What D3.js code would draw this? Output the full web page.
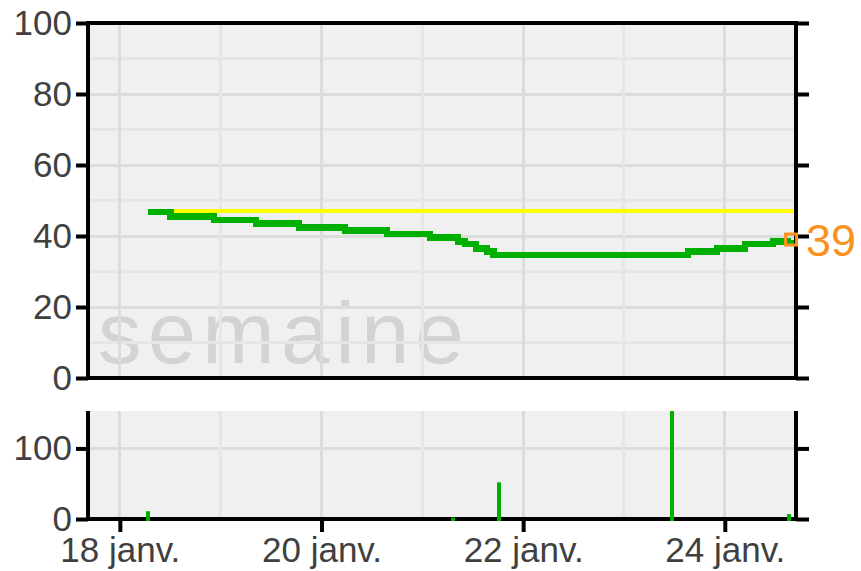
<!DOCTYPE html>
<html>
<head>
<meta charset="utf-8">
<script src="https://cdn.jsdelivr.net/npm/d3@7"></script>
<style>
body { margin: 0; background: #fff; }
svg { display: block; }
</style>
</head>
<body>
<script>
// green step line (top panel)
var tempTimes = ["2024-01-18 06:40", "2024-01-18 12:00", "2024-01-18 22:24", "2024-01-19 08:24",
                 "2024-01-19 18:36", "2024-01-20 05:36", "2024-01-20 15:36", "2024-01-21 01:48",
                 "2024-01-21 08:30", "2024-01-21 10:06", "2024-01-21 12:48", "2024-01-21 15:24",
                 "2024-01-21 17:00", "2024-01-23 15:12", "2024-01-23 22:06", "2024-01-24 04:48",
                 "2024-01-24 11:30", "2024-01-24 15:46"];
var tempValues = [46.7, 45.5, 44.5, 43.5, 42.4, 41.5, 40.5, 39.6, 38.5, 37.7, 36.5, 35.7,
                  34.6, 35.7, 36.5, 37.7, 38.5, 39];
// yellow threshold
var seuilValue = 47;

// bars (bottom panel)
var barTimes = ["2024-01-18 06:40", "2024-01-21 07:18", "2024-01-21 18:12", "2024-01-23 11:30", "2024-01-24 15:18"];
var barValues = [11, 2, 52, 165, 7];

// axes
var xStart = "2024-01-17 16:25", xEnd = "2024-01-24 16:57";
var xTickDays = ["2024-01-18", "2024-01-20", "2024-01-22", "2024-01-24"];
var yTicksTop = [0, 20, 40, 60, 80, 100];
var yGridTop = [10, 20, 30, 40, 50, 60, 70, 80, 90];
var yTicksBottom = [0, 100];
var watermark = "semaine";

var W = 861, H = 571;
var left = 88, right = 796;
var top1 = 23, bottom1 = 378;
var top2 = 411, bottom2 = 519;
var font = "'Liberation Sans', Arial, sans-serif";
var textColor = "#404040";

var parseTime = d3.timeParse("%Y-%m-%d %H:%M");
var parseDay = d3.timeParse("%Y-%m-%d");

var fr = d3.timeFormatLocale({
  dateTime: "%A %e %B %Y à %X", date: "%d/%m/%Y", time: "%H:%M:%S", periods: ["AM", "PM"],
  days: ["dimanche", "lundi", "mardi", "mercredi", "jeudi", "vendredi", "samedi"],
  shortDays: ["dim.", "lun.", "mar.", "mer.", "jeu.", "ven.", "sam."],
  months: ["janvier", "février", "mars", "avril", "mai", "juin", "juillet", "août", "septembre", "octobre", "novembre", "décembre"],
  shortMonths: ["janv.", "févr.", "mars", "avr.", "mai", "juin", "juil.", "août", "sept.", "oct.", "nov.", "déc."]
});
var fmtDay = fr.format("%-d %b");

var temp = tempTimes.map(function(t, i) { return {date: parseTime(t), value: tempValues[i]}; });
var bars = barTimes.map(function(t, i) { return {date: parseTime(t), value: barValues[i]}; });
var majorDays = xTickDays.map(parseDay);

var x = d3.scaleTime().domain([parseTime(xStart), parseTime(xEnd)]).range([left, right]);
var yTop = d3.scaleLinear().domain([0, 100]).range([bottom1, top1]);
var yBot = d3.scaleLinear().domain([0, 153]).range([bottom2, top2]).clamp(true);

var svg = d3.select("body").append("svg")
    .attr("width", W)
    .attr("height", H)
    .style("font-family", font);

var allDays = d3.timeDay.range(x.domain()[0], x.domain()[1]);
function isMajor(d) {
  return majorDays.some(function(m) { return +m === +d; });
}

// ---- top panel ----
svg.append("rect")
    .attr("x", left).attr("y", top1)
    .attr("width", right - left).attr("height", bottom1 - top1)
    .attr("fill", "#f0f0f0");

svg.append("text")
    .attr("x", 98).attr("y", 363)
    .attr("font-size", 87)
    .attr("textLength", 366)
    .attr("lengthAdjust", "spacing")
    .attr("fill", "#d3d3d3")
    .text(watermark);

var grid1 = svg.append("g").attr("shape-rendering", "crispEdges");
grid1.selectAll(".hg").data(yGridTop).enter().append("line")
    .attr("x1", left).attr("x2", right)
    .attr("y1", function(d) { return yTop(d); })
    .attr("y2", function(d) { return yTop(d); })
    .attr("stroke", function(d) { return d % 20 === 0 ? "#dcdcdc" : "#e6e6e6"; })
    .attr("stroke-width", 3);
grid1.selectAll(".vg").data(allDays).enter().append("line")
    .attr("x1", function(d) { return x(d); }).attr("x2", function(d) { return x(d); })
    .attr("y1", top1).attr("y2", bottom1)
    .attr("stroke", function(d) { return isMajor(d) ? "#dcdcdc" : "#e6e6e6"; })
    .attr("stroke-width", 3);

// yellow threshold
svg.append("line")
    .attr("x1", x(temp[0].date)).attr("x2", right)
    .attr("y1", yTop(seuilValue)).attr("y2", yTop(seuilValue))
    .attr("stroke", "#ffff00")
    .attr("stroke-width", 4)
    .attr("shape-rendering", "crispEdges");

// green step line
var stepLine = d3.line()
    .x(function(d) { return x(d.date); })
    .y(function(d) { return yTop(d.value); })
    .curve(d3.curveStepAfter);
svg.append("path")
    .datum(temp)
    .attr("d", stepLine)
    .attr("fill", "none")
    .attr("stroke", "#00b000")
    .attr("stroke-width", 6.5)
    .attr("shape-rendering", "crispEdges");

// frame
svg.append("rect")
    .attr("x", left).attr("y", top1)
    .attr("width", right - left).attr("height", bottom1 - top1)
    .attr("fill", "none")
    .attr("stroke", "#000")
    .attr("stroke-width", 4);

function styleAxis(g) {
  g.select(".domain").remove();
  g.selectAll(".tick line").attr("stroke", "#000").attr("stroke-width", 4);
  g.selectAll(".tick text")
      .attr("fill", textColor)
      .attr("font-size", 35)
      .attr("font-family", font);
}

svg.append("g")
    .attr("transform", "translate(" + left + ",0)")
    .call(d3.axisLeft(yTop).tickValues(yTicksTop).tickSize(12).tickPadding(4))
    .call(styleAxis);
svg.append("g")
    .attr("transform", "translate(" + right + ",0)")
    .call(d3.axisRight(yTop).tickValues(yTicksTop).tickSize(13).tickFormat(""))
    .call(styleAxis);

// last value marker
var last = temp[temp.length - 1];
svg.append("rect")
    .attr("x", x(last.date) - 5.5).attr("y", yTop(last.value) - 5.5)
    .attr("width", 11).attr("height", 11)
    .attr("fill", "none")
    .attr("stroke", "#f7931e")
    .attr("stroke-width", 3);
svg.append("text")
    .attr("x", 806).attr("y", yTop(last.value) + 16)
    .attr("font-size", 45)
    .attr("fill", "#f7931e")
    .text(d3.format("d")(last.value));

// ---- bottom panel ----
svg.append("rect")
    .attr("x", left).attr("y", top2)
    .attr("width", right - left).attr("height", bottom2 - top2)
    .attr("fill", "#f0f0f0");

var grid2 = svg.append("g").attr("shape-rendering", "crispEdges");
grid2.selectAll(".hg").data(yTicksBottom.filter(function(d) { return d > 0; })).enter().append("line")
    .attr("x1", left).attr("x2", right)
    .attr("y1", function(d) { return yBot(d); })
    .attr("y2", function(d) { return yBot(d); })
    .attr("stroke", "#dcdcdc")
    .attr("stroke-width", 3);
grid2.selectAll(".vg").data(allDays).enter().append("line")
    .attr("x1", function(d) { return x(d); }).attr("x2", function(d) { return x(d); })
    .attr("y1", top2).attr("y2", bottom2)
    .attr("stroke", function(d) { return isMajor(d) ? "#dcdcdc" : "#e6e6e6"; })
    .attr("stroke-width", 3);

// side lines
[left, right].forEach(function(px) {
  svg.append("line")
      .attr("x1", px).attr("x2", px)
      .attr("y1", top2).attr("y2", bottom2 + 2)
      .attr("stroke", "#000").attr("stroke-width", 4);
});
svg.append("line")
    .attr("x1", left).attr("x2", right)
    .attr("y1", bottom2).attr("y2", bottom2)
    .attr("stroke", "#000").attr("stroke-width", 4);

svg.append("g")
    .attr("transform", "translate(" + left + ",0)")
    .call(d3.axisLeft(yBot).tickValues(yTicksBottom).tickSize(12).tickPadding(4))
    .call(styleAxis);
svg.append("g")
    .attr("transform", "translate(" + right + ",0)")
    .call(d3.axisRight(yBot).tickValues(yTicksBottom).tickSize(13).tickFormat(""))
    .call(styleAxis);

svg.append("g")
    .attr("transform", "translate(0," + bottom2 + ")")
    .call(d3.axisBottom(x).tickValues(majorDays).tickSize(13).tickPadding(5).tickFormat(fmtDay))
    .call(styleAxis);

// bars drawn over the baseline
svg.selectAll(".bar").data(bars).enter().append("rect")
    .attr("class", "bar")
    .attr("x", function(d) { return Math.round(x(d.date)) - 2; })
    .attr("width", 4)
    .attr("y", function(d) { return yBot(d.value); })
    .attr("height", function(d) { return bottom2 + 2 - yBot(d.value); })
    .attr("fill", "#00b000");
</script>
</body>
</html>
